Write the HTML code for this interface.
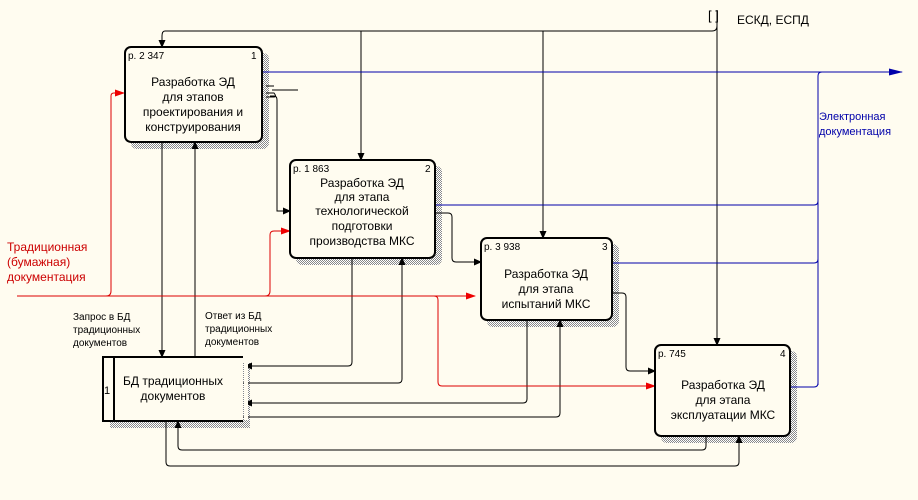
<!DOCTYPE html>
<html><head><meta charset="utf-8"><style>
html,body{margin:0;padding:0;background:#fffcf0;}
svg{display:block;font-family:"Liberation Sans",sans-serif;}
</style></head><body>
<svg width="918" height="500" viewBox="0 0 918 500" xmlns="http://www.w3.org/2000/svg">
<defs>
<pattern id="sh" width="2" height="2" patternUnits="userSpaceOnUse"><rect width="2" height="2" fill="#fff"/><rect width="1" height="1" fill="#888"/><rect x="1" y="1" width="1" height="1" fill="#888"/></pattern>
<marker id="ab" markerWidth="8" markerHeight="8" refX="7" refY="4" orient="auto" markerUnits="userSpaceOnUse"><path d="M0,0.5 L8,4 L0,7.5z" fill="#000"/></marker>
<marker id="ar" markerWidth="10" markerHeight="8" refX="9" refY="4" orient="auto" markerUnits="userSpaceOnUse"><path d="M0,0.5 L10,4 L0,7.5z" fill="#e00"/></marker>
<marker id="au" markerWidth="14" markerHeight="8" refX="13" refY="4" orient="auto" markerUnits="userSpaceOnUse"><path d="M0,0.5 L14,4 L0,7.5z" fill="#00a"/></marker>
</defs>
<rect width="918" height="500" fill="#fffcf0"/>
<rect x="131" y="53" width="138" height="96" rx="6" fill="url(#sh)"/>
<rect x="296" y="166" width="146" height="99" rx="6" fill="url(#sh)"/>
<rect x="487" y="244" width="132" height="83" rx="6" fill="url(#sh)"/>
<rect x="661" y="351" width="136" height="92" rx="6" fill="url(#sh)"/>
<rect x="110" y="363" width="140" height="65" fill="url(#sh)"/>
<g fill="none" stroke="#000" stroke-width="1">
<path d="M717,10 V345" marker-end="url(#ab)"/>
<path d="M717,26 Q717,31 712,31 H165 Q162,31 162,36 V47" marker-end="url(#ab)"/>
<path d="M361,31 V160" marker-end="url(#ab)"/>
<path d="M543,31 V238" marker-end="url(#ab)"/>
<path d="M270,96 H274 Q277,96 277,100 V211 H290" marker-end="url(#ab)"/>
<path d="M272,90 H298"/>
<path d="M435,213 H448 Q452,213 452,217 V258 Q452,262 456,262 H481" marker-end="url(#ab)"/>
<path d="M612,293 H622 Q626,293 626,297 V367 Q626,371 630,371 H655" marker-end="url(#ab)"/>
<path d="M162,142 V357" marker-end="url(#ab)"/>
<path d="M195,357 V142" marker-end="url(#ab)"/>
<path d="M352,258 V362 Q352,366 348,366 H245" marker-end="url(#ab)"/>
<path d="M243,383 H398 Q402,383 402,379 V258" marker-end="url(#ab)"/>
<path d="M527,320 V399 Q527,403 523,403 H245" marker-end="url(#ab)"/>
<path d="M243,417 H556 Q560,417 560,413 V320" marker-end="url(#ab)"/>
<path d="M706,436 V446 Q706,450 702,450 H182 Q178,450 178,446 V421" marker-end="url(#ab)"/>
<path d="M166,421 V462 Q166,466 170,466 H735 Q739,466 739,462 V436" marker-end="url(#ab)"/>
</g>
<g fill="none" stroke="#d00" stroke-width="1">
<path d="M17,296 H475" marker-end="url(#ar)"/>
<path d="M106,296 Q111,296 111,291 V96 Q111,93 114,93 H124" marker-end="url(#ar)"/>
<path d="M265,296 Q270,296 270,291 V235 Q270,231 274,231 H290" marker-end="url(#ar)"/>
<path d="M434,296 Q438,296 438,300 V382 Q438,386 442,386 H655" marker-end="url(#ar)"/>
</g>
<g fill="none" stroke="#00a" stroke-width="1">
<path d="M262,72 H902" marker-end="url(#au)"/>
<path d="M818,385 V76 Q818,72 822,72"/>
<path d="M435,205 H814 Q818,205 818,201"/>
<path d="M612,263 H814 Q818,263 818,259"/>
<path d="M790,387 H814 Q818,387 818,383"/>
</g>
<g fill="#fffcf0" stroke="#000" stroke-width="2">
<rect x="125" y="47" width="137" height="95" rx="6"/>
<rect x="290" y="160" width="145" height="98" rx="6"/>
<rect x="481" y="238" width="131" height="82" rx="6"/>
<rect x="655" y="345" width="135" height="91" rx="6"/>
<path d="M243,357 H103 V421 H243"/>
<path d="M114,357 V421"/>
</g>
<rect x="244" y="358" width="4" height="62" fill="#fffcf0"/>
<path d="M266,86 h8 M266,97 h8 Q277,97 274,93 h-8" stroke="#000" fill="none"/>
<g font-size="10" fill="#000">
<text x="128" y="59">р. 2 347</text><text x="251" y="59">1</text>
<text x="293" y="172">р. 1 863</text><text x="425" y="172">2</text>
<text x="484" y="250">р. 3 938</text><text x="602" y="250">3</text>
<text x="658" y="357">р. 745</text><text x="780" y="357">4</text>
</g>
<g font-size="12" fill="#000" text-anchor="middle">
<text x="193" y="86">Разработка ЭД</text><text x="193" y="101">для этапов</text><text x="193" y="116">проектирования и</text><text x="193" y="131">конструирования</text>
<text x="362" y="187">Разработка ЭД</text><text x="362" y="201">для этапа</text><text x="362" y="215">технологической</text><text x="362" y="230">подготовки</text><text x="362" y="245">производства МКС</text>
<text x="546" y="278">Разработка ЭД</text><text x="546" y="293">для этапа</text><text x="546" y="308">испытаний МКС</text>
<text x="723" y="389">Разработка ЭД</text><text x="723" y="404">для этапа</text><text x="723" y="419">эксплуатации МКС</text>
<text x="173" y="385">БД традиционных</text><text x="173" y="400">документов</text>
</g>
<text x="104" y="394" font-size="11">1</text>
<g font-size="12" fill="#c00">
<text x="7" y="251">Традиционная</text><text x="7" y="266">(бумажная)</text><text x="7" y="281">документация</text>
</g>
<g font-size="10" fill="#000">
<text x="73" y="320">Запрос в БД</text><text x="73" y="333">традиционных</text><text x="73" y="346">документов</text>
<text x="205" y="319">Ответ из БД</text><text x="205" y="332">традиционных</text><text x="205" y="345">документов</text>
</g>
<text x="737" y="24" font-size="12">ЕСКД, ЕСПД</text>
<text x="708" y="20" font-size="13">[ ]</text>
<g font-size="11" fill="#00a"><text x="819" y="120">Электронная</text><text x="819" y="135">документация</text></g>
</svg>
</body></html>
